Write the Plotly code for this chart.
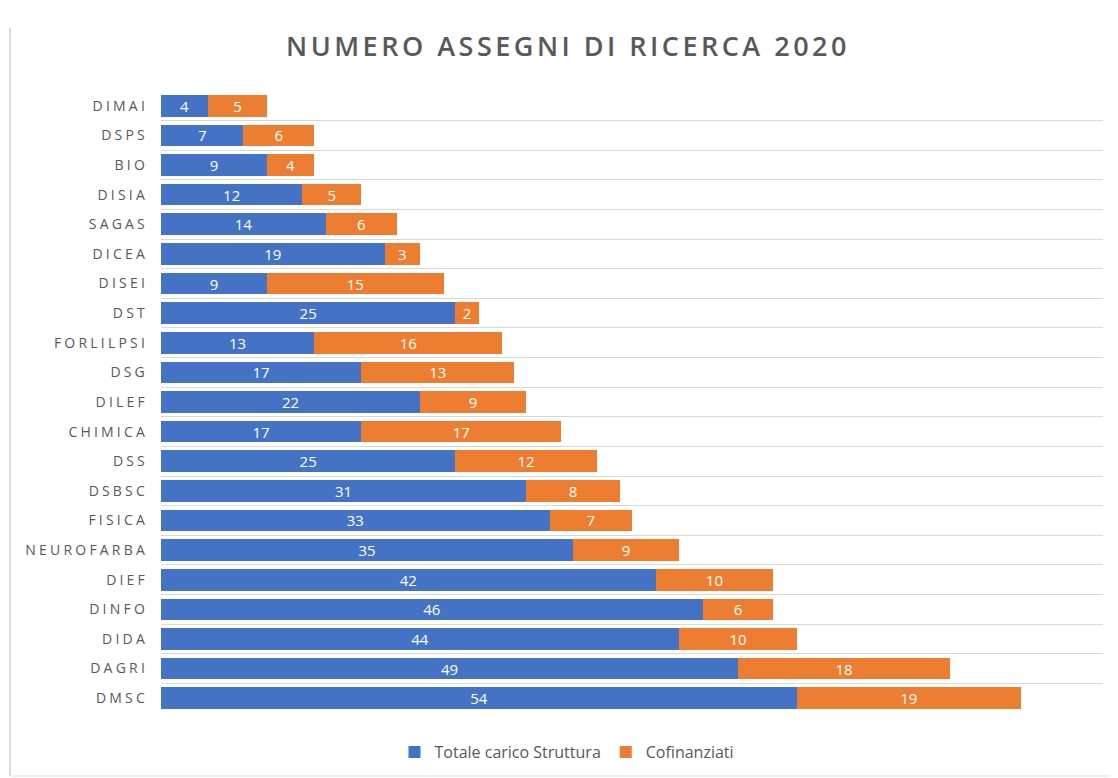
import plotly.graph_objects as go

categories = ["DIMAI", "DSPS", "BIO", "DISIA", "SAGAS", "DICEA", "DISEI", "DST",
              "FORLILPSI", "DSG", "DILEF", "CHIMICA", "DSS", "DSBSC", "FISICA",
              "NEUROFARBA", "DIEF", "DINFO", "DIDA", "DAGRI", "DMSC"]
totale_carico = [4, 7, 9, 12, 14, 19, 9, 25, 13, 17, 22, 17, 25, 31, 33, 35, 42, 46, 44, 49, 54]
cofinanziati = [5, 6, 4, 5, 6, 3, 15, 2, 16, 13, 9, 17, 12, 8, 7, 9, 10, 6, 10, 18, 19]
series_names = ["Totale carico Struttura", "Cofinanziati"]
title_text = "NUMERO ASSEGNI DI RICERCA 2020"

BLUE = "#4472C4"
ORANGE = "#ED7D31"
GRAY = "#595959"
FONT = "Open Sans"

W, H = 1110, 770  # page has an 8px body margin
L, T, R, B = 153, 83, 15, 65
PW, PH = W - L - R, H - T - B

fig = go.Figure()
for name, vals, col in [(series_names[0], totale_carico, BLUE), (series_names[1], cofinanziati, ORANGE)]:
    fig.add_trace(go.Bar(
        y=categories, x=vals, name=name, orientation="h",
        marker=dict(color=col, line=dict(width=0)),
        text=[str(v) for v in vals], textposition="inside", insidetextanchor="middle",
        textangle=0, constraintext="none",
        insidetextfont=dict(color="white", size=15, family=FONT),
        hoverinfo="x+y+name",
    ))

fig.update_layout(
    barmode="stack",
    bargap=0.27,
    width=W, height=H,
    margin=dict(l=L, r=R, t=T, b=B),
    paper_bgcolor="white", plot_bgcolor="white",
    font=dict(family=FONT, color=GRAY),
    title=dict(
        text='<span style="letter-spacing:3.5px;font-weight:600">' + title_text + '</span>',
        x=(568 - 8) / W, xref="container", xanchor="center",
        y=1 - (47 - 8) / H, yref="container", yanchor="middle",
        font=dict(size=27, color=GRAY, family=FONT),
    ),
    legend=dict(
        orientation="h", x=(567 - 8) / W, xref="container", xanchor="center",
        y=1 - (752 - 8) / H, yref="container", yanchor="middle",
        font=dict(size=16, color=GRAY, family=FONT),
        traceorder="normal", itemwidth=30,
    ),
    xaxis=dict(range=[0, 80], showticklabels=False, showgrid=False, zeroline=False,
               showline=False, fixedrange=True),
    yaxis=dict(
        autorange="reversed", type="category",
        tickmode="array", tickvals=categories,
        ticktext=['<span style="letter-spacing:3.2px">' + c + '</span>' for c in categories],
        tickson="boundaries", showgrid=True, gridcolor="#D9D9D9", gridwidth=1,
        ticks="", ticklen=0, showline=False, zeroline=False,
        tickfont=dict(size=14, color=GRAY, family=FONT), ticklabelstandoff=12,
    ),
    shapes=[
        dict(type="line", xref="paper", yref="paper", x0=-(L - 2) / PW, x1=-(L - 2) / PW,
             y0=-(B - 2) / PH, y1=(H - T - 2) / PH + 0, line=dict(color="#D9D9D9", width=2)),
        dict(type="line", xref="paper", yref="paper", x0=-(L - 2) / PW, x1=1.02,
             y0=-(B - 2) / PH, y1=-(B - 2) / PH, line=dict(color="#EFEFEF", width=2)),
    ],
)

fig.write_html("out.html")
